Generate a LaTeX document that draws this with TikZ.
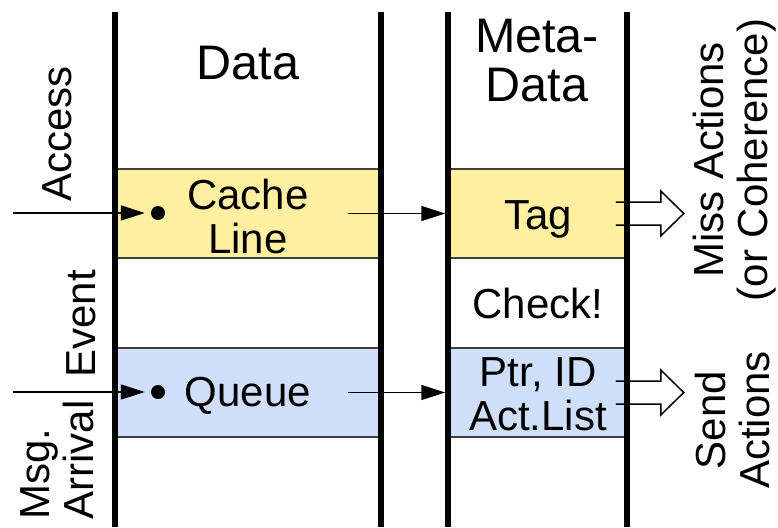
\documentclass[tikz,border=0pt]{standalone}
\usepackage{fontspec}
\setmainfont{Liberation Sans}
\usetikzlibrary{arrows.meta}
\usetikzlibrary{positioning}
\definecolor{lineyellow}{RGB}{255,239,161}
\definecolor{queueblue}{RGB}{207,223,250}
\tikzset{band/.style = {draw=black!75, line width=1.5, inner sep=0, minimum height=89}}
\tikzset{col/.style = {line width=6.5}}
\tikzset{lbl/.style = {font=\fontsize{42}{44}\selectfont, align=center, inner sep=0}}
\tikzset{hdr/.style = {font=\fontsize{48.5}{49}\selectfont, align=center, inner sep=0}}
\tikzset{dot/.style = {fill, circle, inner sep=0, minimum size=14}}
\tikzset{arr/.style = {line width=1.5, -{Triangle[length=24, width=15]}}}
\tikzset{fat/.style = {line width=1.5}}

\begin{document}
\begin{tikzpicture}[x=1pt, y=-1pt]
      \useasboundingbox (0,0) rectangle (778,527);

      \node [band, fill=lineyellow, minimum width=266] at (248, 213.5) (dtop) {};
      \node [band, fill=lineyellow, minimum width=179] at (537.5, 213.5) (mtop) {};
      \node [band, fill=queueblue, minimum width=266] at (248, 392.5) (dbot) {};
      \node [band, fill=queueblue, minimum width=179] at (537.5, 392.5) (mbot) {};

      \node [dot] at (158, 213) (linedot) {};
      \node [dot] at (158, 392) (queuedot) {};
      \coordinate (accessin) at (13, 213);
      \coordinate (arrivalin) at (13, 392);

      \draw [arr] (accessin) -- ([xshift=-6]linedot.west);
      \draw [arr] (arrivalin) -- ([xshift=-6]queuedot.west);
      \draw [arr, shorten >=2] ([xshift=-34]dtop.east) -- (mtop.west);
      \draw [arr, shorten >=2] ([xshift=-34]dbot.east) -- (mbot.west);

      \draw [fat] ([xshift=-12]mtop.east) ++(0,-11.5) -- ++(45,0) -- ++(0,-11)
        -- ++(23,22.5) -- ++(-23,22.5) -- ++(0,-11) -- ++(-45,0);
      \draw [fat] ([xshift=-12]mbot.east) ++(0,-11.5) -- ++(45,0) -- ++(0,-11)
        -- ++(23,22.5) -- ++(-23,22.5) -- ++(0,-11) -- ++(-45,0);

      \foreach \x in {115, 381, 448, 627}
        \draw [col] (\x, 12) -- (\x, 527);

      \node [hdr, anchor=base] at (248, 79) (datahdr) {Data};
      \node [hdr] at (537, 61) (metahdr) {Meta-\\Data};

      \node [lbl] at (248, 216) (cacheline) {Cache\\Line};
      \node [lbl, anchor=base] at (538, 229) (tag) {Tag};
      \node [lbl, anchor=base] at (538, 318) (check) {Check!};
      \node [lbl, anchor=base] at (248, 406) (queue) {Queue};
      \node [lbl] at (538, 394) (ptrid) {Ptr, ID\\Act.List};

      \node [lbl, rotate=90, anchor=base] at (71, 134) (access) {Access};
      \node [lbl, rotate=90, anchor=base] at (95, 324) (event) {Event};
      \node [lbl, rotate=90, align=left] at (57, 460) (arrival) {Msg.\\Arrival};
      \node [lbl, rotate=90] at (735, 160) (miss) {Miss Actions\\(or Coherence)};
      \node [lbl, rotate=90] at (732, 420) (send) {Send\\Actions};
\end{tikzpicture}
\end{document}
